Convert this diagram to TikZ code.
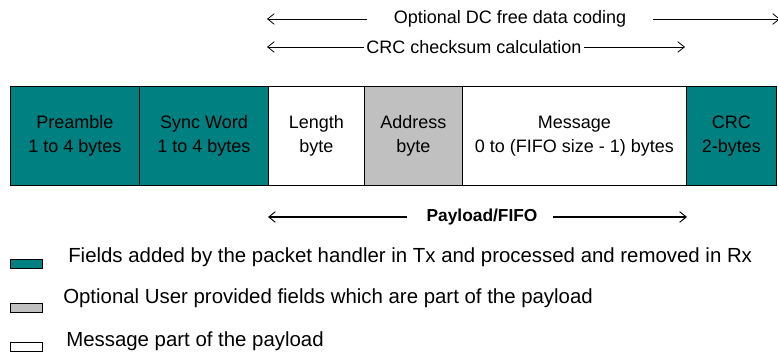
\documentclass[tikz,border=0pt]{standalone}
\usepackage{fontspec}
\setmainfont{Liberation Sans}
\usetikzlibrary{arrows.meta}
\definecolor{tealc}{HTML}{008080}
\definecolor{grayc}{HTML}{C0C0C0}
\begin{document}
\begin{tikzpicture}[x=0.75pt,y=-0.75pt,
  field/.style={draw, line width=0.7pt, anchor=north west, align=center, inner sep=0pt,
    minimum height=74.25pt, font=\fontsize{13.5}{18}\selectfont},
  lbl/.style={font=\fontsize{13.5}{16}\selectfont, inner sep=0pt},
  thin arrow/.style={line width=0.6pt, -{Straight Barb[length=5pt,width=8pt]}},
  thick arrow/.style={line width=1.6pt, -{Straight Barb[length=5pt,width=8pt,line width=0.7pt]}},
  legbox/.style={draw, line width=0.6pt, anchor=north west, inner sep=0pt, minimum width=24pt, minimum height=6.5pt},
  legtext/.style={anchor=base west, inner sep=0pt, font=\fontsize{15.3}{18}\selectfont}]
\useasboundingbox (0,0) rectangle (778,353);
% packet fields
\node[field, fill=tealc, minimum width=96.75pt] (pre) at (10,86) {Preamble\\1 to 4 bytes};
\node[field, fill=tealc, minimum width=96.75pt] (sync) at (139,86) {Sync Word\\1 to 4 bytes};
\node[field, fill=white, minimum width=72pt] (len) at (268,86) {Length\\byte};
\node[field, fill=grayc, minimum width=73.5pt] (addr) at (364,86) {Address\\byte};
\node[field, fill=white, minimum width=168pt] (msg) at (462,86) {Message\\0 to (FIFO size - 1) bytes};
\node[field, fill=tealc, minimum width=67.5pt] (crc) at (686,86) {CRC\\2-bytes};
% top arrows
\node[lbl] (dc) at (510,19) {Optional DC free data coding};
\coordinate (dcl) at (267,19);
\coordinate (dcla) at (367,19);
\coordinate (dcra) at (653,19);
\coordinate (dcr) at (780,19);
\draw[thin arrow] (dcla) -- (dcl);
\draw[thin arrow] (dcra) -- (dcr);
\node[lbl] (cs) at (474,47) {CRC checksum calculation};
\coordinate (csl) at (267,47);
\coordinate (csr) at (685,47);
\draw[thin arrow] ([xshift=-1.5pt]cs.west) -- (csl);
\draw[thin arrow] ([xshift=1.5pt]cs.east) -- (csr);
% payload arrow
\node[lbl, font=\fontsize{13}{16}\selectfont\bfseries] (pl) at (482,217) {Payload/FIFO};
\coordinate (pll) at (268,217);
\coordinate (plla) at (407,217);
\coordinate (plra) at (553,217);
\coordinate (plr) at (687,217);
\draw[thick arrow] (plla) -- (pll);
\draw[thick arrow] (plra) -- (plr);
% legend
\node[legbox, fill=tealc] (lg1) at (10,259) {};
\node[legbox, fill=grayc] (lg2) at (10,303) {};
\node[legbox, fill=white] (lg3) at (10,342) {};
\node[legtext] (lt1) at (68,262) {Fields added by the packet handler in Tx and processed and removed in Rx};
\node[legtext] (lt2) at (63,303) {Optional User provided fields which are part of the payload};
\node[legtext] (lt3) at (66,346) {Message part of the payload};
\end{tikzpicture}
\end{document}
